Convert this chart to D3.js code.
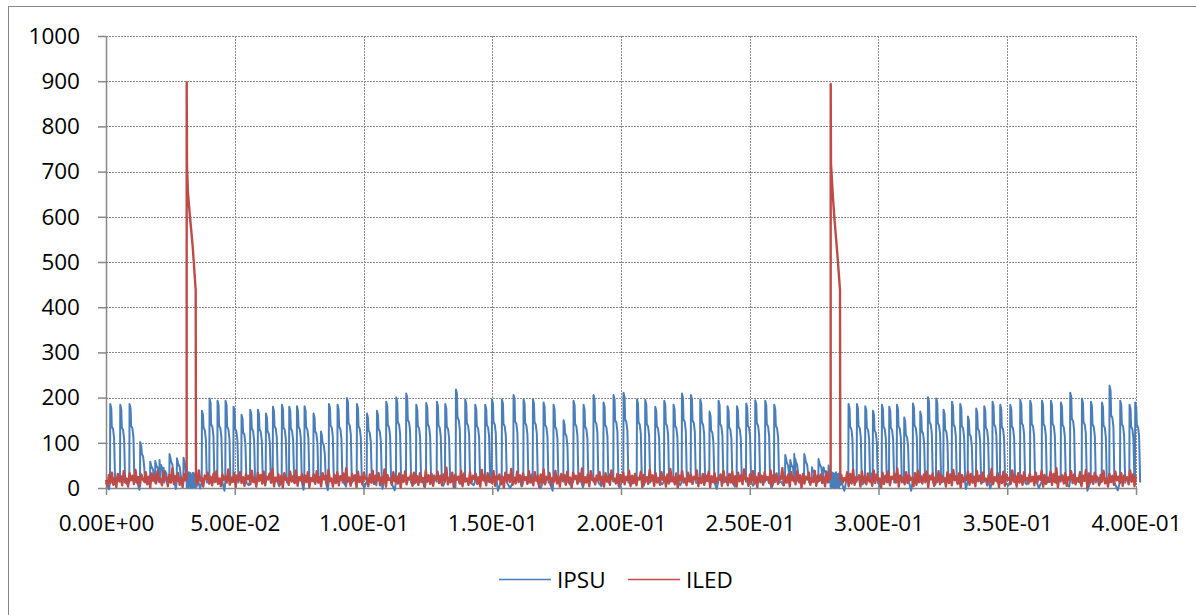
<!DOCTYPE html>
<html>
<head>
<meta charset="utf-8">
<script src="https://cdn.jsdelivr.net/npm/d3@7"></script>
<style>
  body { margin: 0; background: #fff; }
  svg { display: block; font-family: "Open Sans", sans-serif; }
</style>
</head>
<body>
<div id="viz"></div>
<script>
// axis ticks
var yTicks = [0, 100, 200, 300, 400, 500, 600, 700, 800, 900, 1000];
var xTicks = [0, 0.05, 0.1, 0.15, 0.2, 0.25, 0.3, 0.35, 0.4];
var xLabels = ["0.00E+00", "5.00E-02", "1.00E-01", "1.50E-01", "2.00E-01",
               "2.50E-01", "3.00E-01", "3.50E-01", "4.00E-01"];
var seriesNames = ["IPSU", "ILED"];

// IPSU pulses: start time (s), peak and the step it falls back to
var ipsuPulseT = [0.00155, 0.00544, 0.00905, 0.01320, 0.01709, 0.01903, 0.02070, 0.02225, 0.02458, 0.02746, 0.03002,
  0.03717, 0.04012, 0.04322, 0.04633, 0.04944, 0.05254, 0.05592, 0.05891, 0.06202, 0.06474,
  0.06823, 0.07107, 0.07406, 0.07701, 0.08050, 0.08338, 0.08649, 0.08983, 0.09348, 0.09736,
  0.10124, 0.10513, 0.10874, 0.11262, 0.11650, 0.12039, 0.12427, 0.12842, 0.13165, 0.13580,
  0.13942, 0.14330, 0.14718, 0.14979, 0.15367, 0.15817, 0.16206, 0.16571, 0.16983, 0.17371,
  0.17759, 0.18148, 0.18536, 0.18924, 0.19313, 0.19701, 0.20089, 0.20610, 0.20932, 0.21320,
  0.21670, 0.22031, 0.22357, 0.22707, 0.23068, 0.23429, 0.23779, 0.24128, 0.24493, 0.24854,
  0.25204, 0.25592, 0.25942,
  0.26369, 0.26563, 0.26718, 0.27107, 0.27406, 0.27662, 0.27856, 0.28050,
  0.28827, 0.29153, 0.29476, 0.29775, 0.30124, 0.30408, 0.30707, 0.30990, 0.31328, 0.31612,
  0.31911, 0.32233, 0.32517, 0.32843, 0.33165, 0.33464, 0.33786, 0.34097, 0.34419, 0.34718,
  0.35107, 0.35495, 0.35883, 0.36338, 0.36687, 0.37076, 0.37437, 0.37891, 0.38241, 0.38668,
  0.38963, 0.39379, 0.39740, 0.39961];
var ipsuPulsePeak = [186, 184, 186, 102, 58, 60, 62, 45, 75, 66, 67,
  171, 198, 193, 193, 180, 162, 173, 173, 165, 180,
  184, 180, 181, 181, 165, 125, 186, 184, 199, 186,
  165, 171, 191, 200, 209, 184, 188, 191, 186, 218,
  196, 184, 184, 196, 196, 206, 196, 196, 189, 184,
  150, 193, 184, 206, 189, 206, 211, 196, 195, 180,
  193, 184, 209, 206, 196, 169, 193, 181, 181, 187,
  194, 193, 184,
  73, 62, 75, 75, 46, 64, 46, 50,
  186, 186, 181, 171, 184, 180, 184, 156, 187, 169,
  201, 198, 173, 191, 186, 158, 176, 181, 191, 184,
  184, 195, 193, 193, 193, 189, 211, 198, 191, 189,
  226, 193, 184, 189];
var ipsuPulseStep = [130, 128, 132, 70, 40, 42, 44, 32, 52, 46, 47,
  128, 135, 132, 130, 125, 118, 126, 124, 120, 131,
  128, 126, 130, 129, 120, 95, 133, 130, 138, 131,
  122, 125, 134, 140, 145, 132, 135, 133, 130, 150,
  138, 132, 134, 140, 136, 142, 138, 140, 134, 130,
  115, 136, 130, 142, 134, 144, 146, 140, 136, 131,
  137, 132, 146, 144, 140, 122, 136, 129, 130, 133,
  138, 136, 132,
  50, 44, 52, 52, 32, 45, 32, 35,
  130, 132, 128, 122, 130, 128, 131, 112, 133, 120,
  140, 138, 124, 135, 132, 114, 126, 128, 135, 130,
  131, 138, 136, 136, 137, 134, 148, 140, 135, 133,
  155, 136, 130, 134];
// IPSU level between pulses, evenly spaced over 0..0.4 s
var ipsuBase = ("12 -3 22 6 28 -5 15 9 31 1 19 -4 25 8 14 -6 27 3 17 11 33 0 21 -2 16 7 29 -5 13 10 24 -1 18 5 30 -4 20 8 15 -6 26 2 12 9 32 -3 22 6 17 -5 28 1 14 10 23 -2 19 4 31 -6 16 8 25 0 13 -4 27 7 " +
  "18 -1 24 5 14 -5 29 9 20 -3 16 3 33 -6 22 8 12 0 27 -4 19 6 15 -2 30 10 21 -5 17 4 26 -1 13 7 32 -6 23 2 18 9 28 -3 14 5 25 -5 20 1 16 8 31 -2 22 6 12 -4 29 3 19 10 24 -6 15 7 27 0 17 -3 " +
  "21 5 14 -4 30 8 18 -1 25 3 13 -6 28 10 20 -2 16 6 33 -5 23 1 12 9 27 -3 19 4 15 -6 31 7 22 0 17 -4 26 9 14 -2 29 5 20 -5 24 2 13 8 32 -1 18 -6 27 6 16 3 23 -3 11 10 30 -4 21 4 15 -2 28 7 " +
  "14 -5 26 3 19 9 31 -2 17 5 24 -6 13 8 29 0 22 -3 15 6 33 -4 20 2 12 10 27 -1 18 -5 25 7 16 1 30 -3 21 9 14 -6 28 4 19 -2 23 8 11 -4 32 5 17 0 26 -5 15 9 29 -1 20 3 13 -6 24 6 18 -3 31 2 " +
  "16 8 27 -4 21 1 13 -6 30 7 18 -2 25 10 14 -5 29 4 20 -1 12 9 33 -3 23 5 17 -6 26 2 15 8 31 -4 19 0 24 6 13 -2 28 10 22 -5 16 3 30 -1 18 7 25 -6 14 1 27 9 21 -3 12 5 32 -5 17 4 23 -1 15 8")
  .split(" ").map(Number);
// dense IPSU bursts while ILED spikes
var ipsuBurstT = [[0.0312, 0.0352], [0.2812, 0.2853]];
var ipsuBurst = [
  [22, 2, 31, 5, 28, 0, 35, 8, 26, 3, 33, 1, 30, 6, 24, 0, 34, 4, 29, 2, 32, 7, 25, 1, 30, 3],
  [20, 3, 30, 0, 27, 6, 34, 2, 25, 5, 32, 0, 29, 4, 35, 1, 26, 7, 31, 2, 28, 0, 33, 5, 24, 8]
];

// ILED level, evenly spaced over 0..0.4 s
var iledBase = ("18 4 29 11 34 7 22 2 31 15 26 6 37 13 21 3 33 17 27 9 40 12 24 5 30 19 14 35 8 25 1 32 16 28 10 38 14 20 6 36 18 23 4 29 12 43 9 26 15 33 7 21 2 31 17 27 11 35 5 24 13 30 8 39 16 22 3 28 19 34 " +
  "10 25 6 32 14 37 9 21 4 30 18 26 12 41 7 23 15 33 2 28 17 35 11 24 5 31 20 27 8 38 13 22 3 34 16 29 10 36 6 25 19 32 12 42 4 23 15 30 9 27 1 33 18 21 7 36 14 26 11 39 5 24 17 31 8 28 13 35 2 22 " +
  "16 30 9 37 12 24 4 33 19 27 7 40 15 21 3 29 11 35 6 26 18 32 10 44 14 23 5 31 17 28 2 36 13 25 8 34 20 22 4 30 12 38 9 27 16 33 6 24 11 41 3 29 18 21 7 35 15 26 10 32 1 28 14 37 8 23 19 31 5 34 " +
  "12 26 7 33 17 22 3 39 14 28 9 31 5 24 19 36 11 27 6 30 16 45 8 23 13 34 2 29 18 25 10 38 4 32 15 21 7 35 12 27 20 31 9 24 3 40 17 28 6 33 14 22 11 37 5 26 19 30 8 25 1 34 16 29 13 42 7 23 10 36 " +
  "15 28 4 32 18 24 9 37 12 21 6 35 16 27 2 30 11 41 8 25 19 33 5 22 14 38 10 26 3 31 17 29 7 36 13 23 1 34 20 27 9 32 15 43 6 24 12 30 4 37 18 22 8 28 16 35 11 25 3 33 14 26 7 39 19 21 10 31 5 29 " +
  "13 34 8 25 17 38 4 27 11 31 6 23 19 36 2 29 14 24 9 40 16 28 5 33 12 22 7 35 18 26 3 30 10 42 15 24 8 32 1 27 17 37 12 21 6 34 14 29 9 25 19 39 4 23 11 31 7 28 16 36 2 26 13 33 10 22 18 30 5 38 " +
  "17 23 6 31 12 36 9 26 3 34 15 28 8 41 19 22 5 30 13 37 10 25 2 33 16 27 7 35 18 24 11 39 4 29 14 32 9 21 20 44 6 26 12 30 3 35 17 23 8 37 15 28 1 31 10 25 19 34 7 22 13 38 5 27 16 30 11 24 4 36 " +
  "14 27 9 33 2 25 18 38 6 29 12 22 16 35 4 31 10 41 7 24 19 28 3 36 13 26 8 32 15 23 5 39 11 30 17 21 1 34 9 27 14 37 6 25 20 31 12 43 3 28 16 24 8 35 11 29 18 22 4 33 7 38 13 26 10 30 15 36 2 27 " +
  "19 32 5 24 13 37 8 28 16 22 3 35 11 30 6 40 17 26 9 33 1 29 14 23 18 36 7 31 12 25 4 38 15 27 10 34 20 21 6 29 13 42 8 24 16 32 2 26 11 36 5 30 18 23 9 39 14 27 3 33 12 28 7 35 17 22 10 31 15 25 " +
  "6 34 12 26 18 38 3 29 9 23 15 36 7 31 13 44 2 25 17 28 10 33 5 24 19 37 11 30 8 22 14 35 4 27 16 40 1 32 12 26 9 34 18 23 6 29 15 38 10 21 3 31 13 27 7 36 17 25 11 33 5 28 19 24 8 39 14 30 4 26")
  .split(" ").map(Number);
// ILED spikes [t, value]
var iledSpike1 = [[0.03132, 22], [0.03134, 897], [0.03146, 711], [0.03184, 652], [0.03262, 600], [0.03367, 534], [0.03483, 438], [0.03495, 15]];
var iledSpike2 = [[0.28142, 20], [0.28144, 894], [0.28155, 718], [0.28221, 652], [0.28284, 600], [0.28400, 519], [0.28505, 438], [0.28517, 18]];

var W = 1196, H = 615;
var svg = d3.select("#viz").append("svg").attr("width", W).attr("height", H);

// chart border
svg.append("rect").attr("x", 8.5).attr("y", 6.5).attr("width", 1200).attr("height", 620)
    .style("fill", "none").style("stroke", "#878787").style("stroke-width", 1);

var x = d3.scaleLinear().domain([0, 0.4]).range([106, 1136]);
var y = d3.scaleLinear().domain([0, 1000]).range([488, 36]);

// grid
svg.append("g").selectAll("line").data(yTicks.slice(1)).enter().append("line")
    .attr("x1", 106).attr("x2", 1136)
    .attr("y1", function(d) { return Math.round(y(d)) + 0.5; })
    .attr("y2", function(d) { return Math.round(y(d)) + 0.5; })
    .style("stroke", "#8a8a8a").style("stroke-dasharray", "2,1");
svg.append("g").selectAll("line").data(xTicks.slice(1)).enter().append("line")
    .attr("y1", 36).attr("y2", 488)
    .attr("x1", function(d) { return Math.round(x(d)) + 0.5; })
    .attr("x2", function(d) { return Math.round(x(d)) + 0.5; })
    .style("stroke", "#8a8a8a").style("stroke-dasharray", "2,1");

// axes
var yAxis = svg.append("g").attr("transform", "translate(106,0)")
    .call(d3.axisLeft(y).tickValues(yTicks).tickSize(8).tickSizeOuter(0).tickPadding(18)
        .tickFormat(d3.format("d")));
var xAxis = svg.append("g").attr("transform", "translate(0,488)")
    .call(d3.axisBottom(x).tickValues(xTicks).tickSize(7).tickSizeOuter(0).tickPadding(20)
        .tickFormat(function(d, i) { return xLabels[i]; }));
[yAxis, xAxis].forEach(function(g) {
    g.selectAll("path, line").style("stroke", "#878787").style("stroke-width", 1.5);
    g.selectAll("text").style("font-size", "22.5px").style("fill", "#000")
        .style("font-family", "'Open Sans', sans-serif");
});

// build IPSU points
var pulseOff = [0, 0.0001, 0.0005, 0.0007, 0.0012, 0.0016, 0.0020];
function inside(t, wins) {
    return wins.some(function(w) { return t >= w[0] && t <= w[1]; });
}
var pulseWins = ipsuPulseT.map(function(t) { return [t - 0.0001, t + 0.0022]; });
var ipsuPts = [];
ipsuBase.forEach(function(v, i) {
    var t = i * 0.4 / (ipsuBase.length - 1);
    if (!inside(t, pulseWins) && !inside(t, ipsuBurstT)) ipsuPts.push([t, v]);
});
ipsuBurstT.forEach(function(w, k) {
    ipsuBurst[k].forEach(function(v, i) {
        ipsuPts.push([w[0] + i * (w[1] - w[0]) / (ipsuBurst[k].length - 1), v]);
    });
});
ipsuPulseT.forEach(function(t, i) {
    var p = ipsuPulsePeak[i], s = ipsuPulseStep[i];
    var vals = [14, p, p - 10, s + 6, s, s - 20, 12];
    pulseOff.forEach(function(o, j) { ipsuPts.push([t + o, vals[j]]); });
});
ipsuPts.sort(function(a, b) { return a[0] - b[0]; });

// build ILED points
var spikeWins = [[iledSpike1[0][0], iledSpike1[iledSpike1.length - 1][0]],
                 [iledSpike2[0][0], iledSpike2[iledSpike2.length - 1][0]]];
var iledPts = [];
iledBase.forEach(function(v, i) {
    var t = i * 0.4 / (iledBase.length - 1);
    if (!inside(t, spikeWins)) iledPts.push([t, v]);
});
iledPts = iledPts.concat(iledSpike1, iledSpike2);
iledPts.sort(function(a, b) { return a[0] - b[0]; });

var line = d3.line()
    .x(function(d) { return x(d[0]); })
    .y(function(d) { return y(d[1]); });

var colors = ["#4A7EBB", "#BE4B48"];
svg.append("path").datum(ipsuPts).attr("d", line)
    .style("fill", "none").style("stroke", colors[0]).style("stroke-width", 2)
    .style("stroke-linejoin", "round");
svg.append("path").datum(iledPts).attr("d", line)
    .style("fill", "none").style("stroke", colors[1]).style("stroke-width", 2.4)
    .style("stroke-linejoin", "round");

// legend
var legend = svg.append("g");
var legX = [499, 628];
seriesNames.forEach(function(name, i) {
    legend.append("line").attr("x1", legX[i]).attr("x2", legX[i] + 52)
        .attr("y1", 579.5).attr("y2", 579.5)
        .style("stroke", colors[i]).style("stroke-width", 1.5);
    legend.append("text").attr("x", legX[i] + 58).attr("y", 588)
        .style("font-size", "22.5px").style("fill", "#000").text(name);
});
</script>
</body>
</html>
